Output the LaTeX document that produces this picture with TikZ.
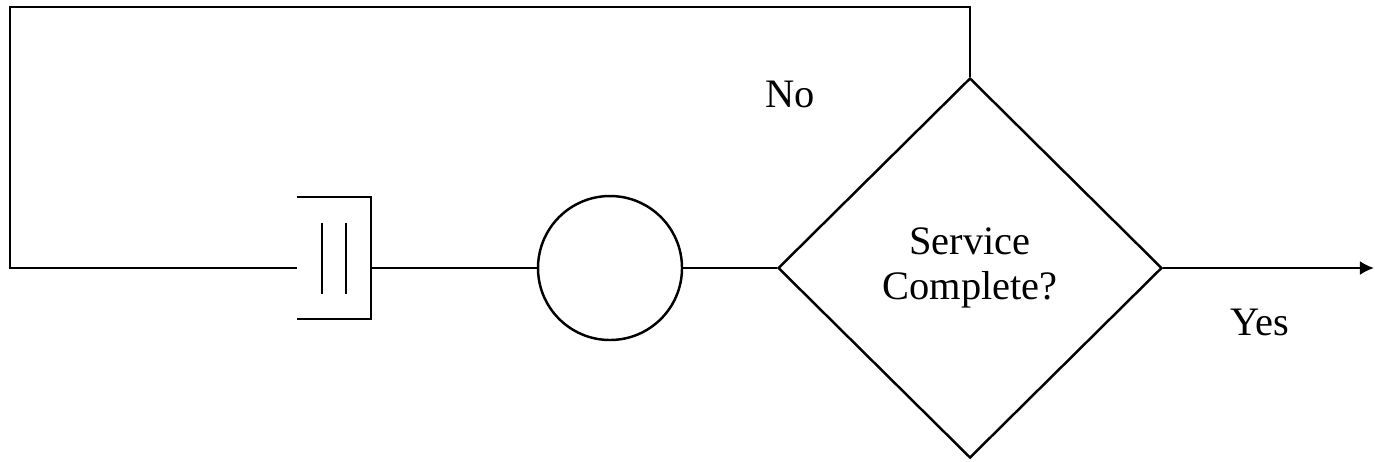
\documentclass[tikz,border=0pt]{standalone}
\usepackage{fontspec}
\setmainfont{Liberation Serif}
\usetikzlibrary{calc, arrows.meta, positioning, shapes.geometric}

\begin{document}
\begin{tikzpicture}[auto, >={Latex[length=4pt,width=4pt]}, line width=0.7pt]
				\tikzstyle{round} = [draw=black, circle, minimum size=1.44cm, inner sep=0pt]
				\tikzstyle{check} = [draw=black, diamond, minimum width=3.84cm, minimum height=3.80cm, inner sep=0pt, align=center, font=\fontsize{11.5}{12.8}\selectfont]
				\tikzstyle{invis} = [draw=none, font=\fontsize{11.5}{12.8}\selectfont]
				\tikzstyle{buffer} = [draw=none, minimum width=0.72cm, minimum height=1.20cm, inner sep=0pt]
				
				\useasboundingbox (0, 0) rectangle (13.75, -4.61);
				
				\node[buffer] 	at (3.34, -2.58) 	(queue) 	{};
				\node[round] 	at (6.10, -2.68)	(server) 	{};
				\node[check] 	at (9.70, -2.68) 	(done) 	{Service\\Complete?};
				\node[invis]	at (7.90, -0.94)	(no)	{No};
				\node[invis]	at (12.60, -3.22)	(yes)	{Yes};
				\coordinate (back) at (0.10, -0.07);
				\coordinate (out) at (13.74, -2.68);
				
				% queue: open on the left, two bars inside
				\draw (queue.north west) -- (queue.north east) -- (queue.south east) -- (queue.south west);
				\draw ($(queue.center)+(-0.12, 0.35)$) -- ++(0, -0.71);
				\draw ($(queue.center)+(0.12, 0.35)$) -- ++(0, -0.71);
				
				\draw (server.west) -- (server.west -| queue.east);
				\draw (server.east) -- (done.west);
				\draw (done.north) |- (back) |- (server.west -| queue.west);
				\path[->]
				(done.east)	edge	(out);
\end{tikzpicture}
\end{document}
